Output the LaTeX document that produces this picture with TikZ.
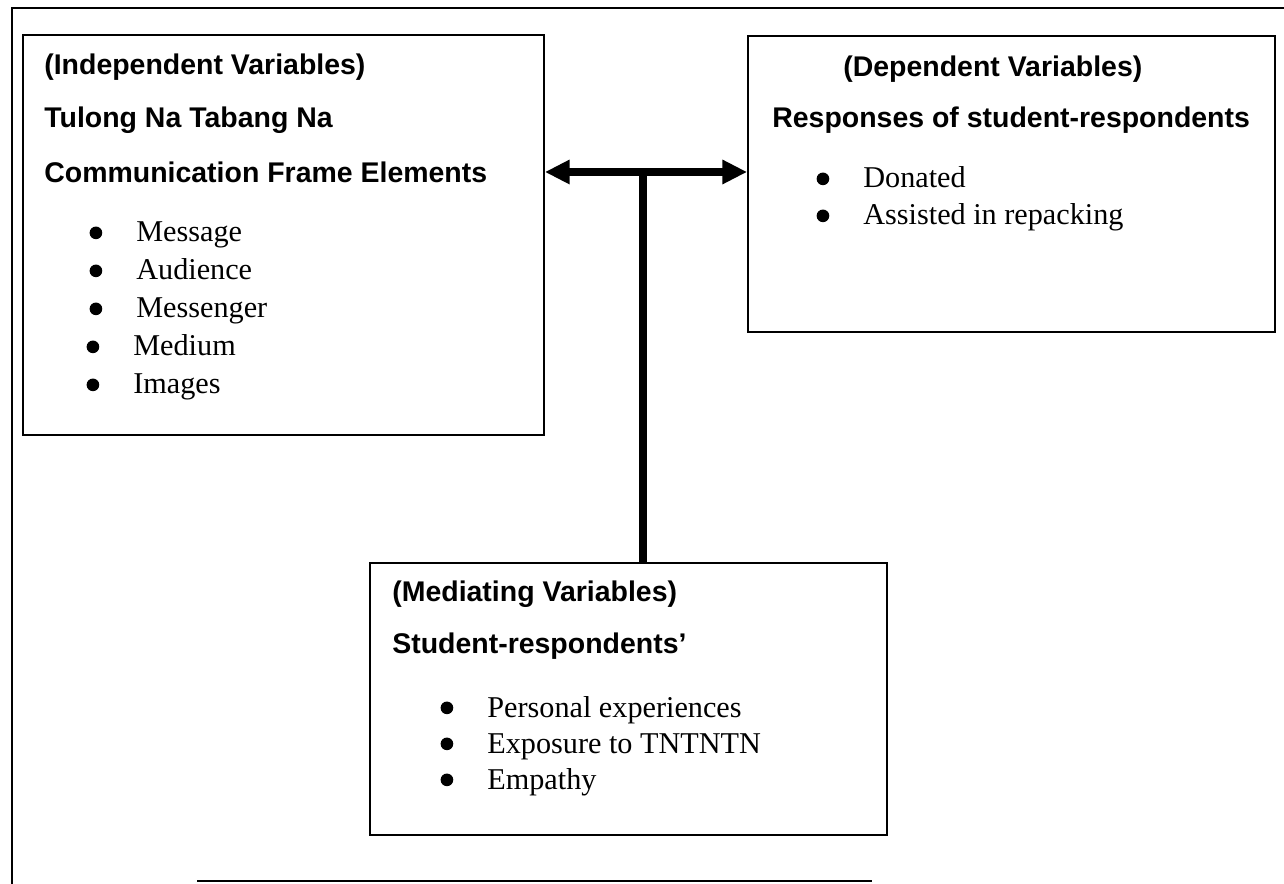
\documentclass[tikz,border=0pt]{standalone}
\usepackage{fontspec}
\setmainfont{Liberation Serif}
\setsansfont{Liberation Sans}
\usetikzlibrary{arrows.meta}
\tikzstyle{box} = [draw, rectangle, line width=1.1pt, inner sep=0pt]
\tikzstyle{head} = [anchor=base west, inner sep=0pt, font=\fontsize{16.2}{19}\selectfont\sffamily\bfseries]
\tikzstyle{item} = [anchor=base west, inner sep=0pt, font=\fontsize{17.2}{20}\selectfont]
\tikzstyle{link} = [draw, line width=4.5pt, {Triangle[length=14pt,width=13pt]}-{Triangle[length=14pt,width=13pt]}]
\newcommand{\bul}{\llap{\makebox[46pt]{\raisebox{1.6pt}{\tikz\fill (0pt,0pt) circle (3.6pt);}}}}

\begin{document}
\begin{tikzpicture}[x=0.02cm, y=-0.02cm]
		\useasboundingbox (0,0) rectangle (1284,884);
		% outer frame (only partly printed)
		\draw[line width=1.1pt] (12,884) -- (12,8) -- (1284,8);
		\draw[line width=1.1pt] (197,881) -- (872,881);

		\node[box, minimum width=10.42cm, minimum height=8cm] (indep) at (283.5,235) {};
		\node[box, minimum width=10.54cm, minimum height=5.92cm] (dep) at (1011.5,184) {};
		\node[box, minimum width=10.34cm, minimum height=5.44cm] (med) at (628.5,699) {};

		% independent variables
		\node[head] (i0) at (44,75) {(Independent Variables)};
		\node[head] (i1) at (44,128) {Tulong Na Tabang Na};
		\node[head] (i2) at (44,183) {Communication Frame Elements};
		\node[item] (i3) at (136,242) {\bul Message};
		\node[item] (i4) at (136,280) {\bul Audience};
		\node[item] (i5) at (136,318) {\bul Messenger};
		\node[item] (i6) at (133,356) {\bul Medium};
		\node[item] (i7) at (133,394) {\bul Images};

		% dependent variables
		\node[head] (d0) at (843,77) {(Dependent Variables)};
		\node[head] (d1) at (772,128) {Responses of student-respondents};
		\node[item] (d2) at (863,188) {\bul Donated};
		\node[item] (d3) at (863,225) {\bul Assisted in repacking};

		% mediating variables
		\node[head] (m0) at (392,602) {(Mediating Variables)};
		\node[head] (m1) at (392,653) {Student-respondents'};
		\node[item] (m2) at (487,717) {\bul Personal experiences};
		\node[item] (m3) at (487,753) {\bul Exposure to TNTNTN};
		\node[item] (m4) at (487,789) {\bul Empathy};

		\coordinate (joint) at (643,172);
		\path[link] (indep.east |- joint) -- (dep.west |- joint);
		\draw[line width=4pt] (joint) -- (med.north -| joint);
	\end{tikzpicture}
\end{document}
